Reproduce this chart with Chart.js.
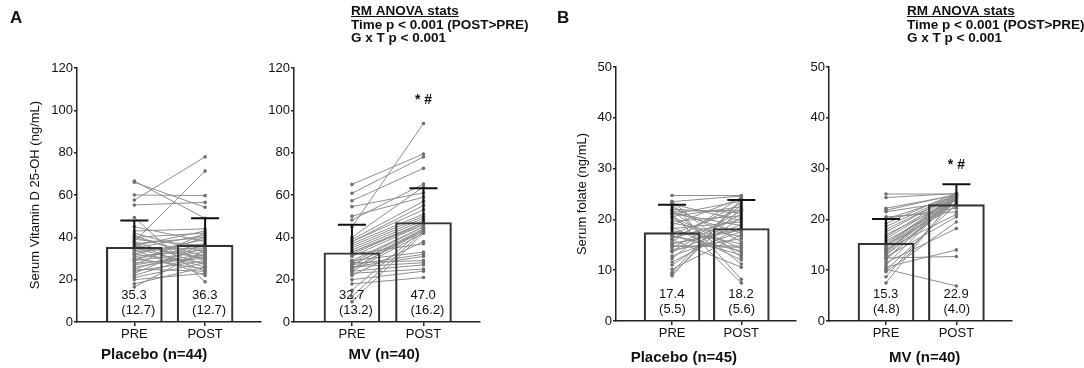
<!DOCTYPE html>
<html>
<head>
<meta charset="utf-8">
<script src="https://cdn.jsdelivr.net/npm/chart.js@4.4.1/dist/chart.umd.min.js"></script>
<style>
  html, body { margin: 0; padding: 0; background: #fff; }
  #wrap { position: relative; width: 1084px; height: 368px; }
  #wrap canvas { position: absolute; top: 0; }
</style>
</head>
<body>
<div id="wrap">
  <canvas id="c1" width="265" height="368" style="left:0px"></canvas>
  <canvas id="c2" width="275" height="368" style="left:265px"></canvas>
  <canvas id="c3" width="260" height="368" style="left:540px"></canvas>
  <canvas id="c4" width="284" height="368" style="left:800px"></canvas>
</div>
<script>
(function () {
    "use strict";

    // Data
    const timeLabels = ["PRE", "POST"];
    const vitDTicks = [0, 20, 40, 60, 80, 100, 120];
    const folateTicks = [0, 10, 20, 30, 40, 50];

    // group means and SD printed in the bars
    const vitDPlaceboMean = [35.3, 36.3];
    const vitDPlaceboSd = [12.7, 12.7];
    const vitDMvMean = [32.7, 47.0];
    const vitDMvSd = [13.2, 16.2];
    const folatePlaceboMean = [17.4, 18.2];
    const folatePlaceboSd = [5.5, 5.6];
    const folateMvMean = [15.3, 22.9];
    const folateMvSd = [4.8, 4.0];

    // individual subjects (PRE[i] -> POST[i])
    const vitDPlaceboPre = [66.6, 66, 60, 57.6, 55.3, 49.4, 38,
        45, 43, 42, 41, 40, 40, 39, 38, 37, 37, 36, 36, 35, 35, 34, 34, 33, 32,
        32, 31, 30, 30, 29, 29, 28, 27, 27, 26, 25, 25, 24, 23, 22, 21, 20, 18, 16.5];
    const vitDPlaceboPost = [49, 54.2, 59.7, 78, 56.5, 19, 71.3,
        38, 44, 33, 29, 42, 31, 36, 27, 40, 24, 43, 30, 26, 41, 35, 22, 37, 28,
        39, 34, 25, 36, 33, 40, 30, 32, 42, 31, 35, 24, 29, 37, 32, 28, 23, 26, 34];

    const vitDMvPre = [65, 60.8, 57.3, 54.5, 50, 48.2, 45, 40, 39, 38,
        38, 37, 36, 35, 34, 33, 32, 33, 32, 31,
        29, 29, 28, 27, 27, 26, 25, 28, 27, 26,
        25, 24, 24, 23, 22, 20, 18, 15, 12, 9.6];
    const vitDMvPost = [79.4, 78, 72.6, 61, 59, 65.2, 93.8, 63.9, 57, 55,
        53, 51, 50, 49, 48, 47, 47, 46, 37, 46,
        45, 33, 45, 32, 44, 31, 44, 29, 43, 28,
        43, 27, 42, 25, 38, 24, 21, 44, 43, 42];

    const folatePlaceboPre = [24.7, 23.5, 23.2, 23, 22.5, 22, 21.8, 21.5, 21, 20.5,
        21.2, 21, 20.6, 20.2, 19.6, 19.3, 18.9, 18.5, 18.2, 17.8,
        17.2, 16.8, 16.3, 16, 15.6, 15.2, 14.7, 14.4, 14, 13.6,
        16.8, 16.2, 15.2, 14.8, 13.8, 12.8, 12.3, 11.6, 11, 10.2,
        9.6, 9.2, 8.9, 23.5, 21.6];
    const folatePlaceboPost = [24.7, 12.5, 8.2, 19.8, 15.6, 21.3, 11.2, 17.3, 23.6, 14.2,
        18.8, 7.5, 22.5, 13.4, 20.7, 16.6, 24.2, 12, 19.5, 15.2,
        22, 13.8, 20.1, 10.6, 24.4, 17.9, 14.8, 21.6, 16.2, 19,
        13, 23.2, 18.2, 14.5, 21, 17.6, 22.8, 18.5, 20.4, 17,
        24, 22.2, 23.9, 24.6, 21.8];

    const folateMvPre = [25, 24.3, 22.2, 21.8, 21.5, 20.5, 20.2, 20, 19.2, 18.6,
        18, 17.5, 17, 16.6, 16.2, 15.8, 15.4, 15, 15, 14.7,
        14.4, 14.1, 13.8, 13.5, 13.2, 12.9, 12.6, 12.3, 12.4, 12,
        11.5, 11, 10.6, 10.2, 10, 9.7, 8.7, 7.5, 13.8, 14];
    const folateMvPost = [25, 25.1, 24.8, 24.9, 23.6, 21.5, 22.2, 24.7, 25.2, 24.9,
        24.8, 25, 23.8, 25, 24.6, 23.2, 24.5, 22.6, 24.9, 24.8,
        24.4, 21, 24.3, 24.2, 23.4, 24.1, 20.5, 24, 12.7, 24.7,
        18.2, 24.6, 14, 6.9, 23, 19.5, 24.2, 24.8, 25.1, 24];

    const statsLines = ["RM ANOVA stats", "Time p < 0.001 (POST>PRE)", "G x T p < 0.001"];

    const FONT = "'Liberation Sans', Arial, Helvetica, sans-serif";
    const INK = "#111";
    const AXIS = "#222";

    // error bars, value labels and the free text of each panel
    const decor = {
        id: "decor",
        afterDatasetsDraw(chart, args, opts) {
            const ctx = chart.ctx;
            const xs = chart.scales.x;
            const ys = chart.scales.y;
            ctx.save();
            ctx.strokeStyle = INK;
            ctx.lineWidth = 2;
            opts.means.forEach(function (m, i) {
                const px = xs.getPixelForValue(i + 1);
                const y0 = ys.getPixelForValue(m);
                const y1 = ys.getPixelForValue(m + opts.sds[i]);
                ctx.beginPath();
                ctx.moveTo(px, y0);
                ctx.lineTo(px, y1);
                ctx.moveTo(px - 14, y1);
                ctx.lineTo(px + 14, y1);
                ctx.stroke();
            });
            ctx.fillStyle = INK;
            ctx.font = "13px " + FONT;
            ctx.textAlign = "left";
            ctx.textBaseline = "middle";
            opts.means.forEach(function (m, i) {
                const px = xs.getPixelForValue(i + 1) - 13;
                ctx.fillText(m.toFixed(1), px, ys.bottom - 27);
                ctx.fillText("(" + opts.sds[i].toFixed(1) + ")", px, ys.bottom - 12);
            });
            ctx.restore();
        },
        afterDraw(chart, args, opts) {
            const ctx = chart.ctx;
            const xs = chart.scales.x;
            const ys = chart.scales.y;
            ctx.save();
            ctx.fillStyle = INK;
            ctx.textBaseline = "middle";

            ctx.font = "bold 15px " + FONT;
            ctx.textAlign = "center";
            ctx.fillText(opts.group, xs.getPixelForValue(opts.groupX), opts.groupY);

            if (opts.starY !== null) {
                ctx.font = "bold 14px " + FONT;
                ctx.fillText("* #", xs.getPixelForValue(2), ys.getPixelForValue(opts.starY));
            }

            if (opts.letter) {
                ctx.font = "bold 17px " + FONT;
                ctx.textAlign = "left";
                ctx.fillText(opts.letter, opts.letterX, 18);
            }

            if (opts.statsX !== null) {
                ctx.font = "bold 13.5px " + FONT;
                ctx.textAlign = "left";
                statsLines.forEach(function (t, i) {
                    ctx.fillText(t, opts.statsX, 11 + i * 13.8);
                });
                const w = ctx.measureText(statsLines[0]).width;
                ctx.strokeStyle = INK;
                ctx.lineWidth = 1;
                ctx.beginPath();
                ctx.moveTo(opts.statsX, 16.5);
                ctx.lineTo(opts.statsX + w, 16.5);
                ctx.stroke();
            }
            ctx.restore();
        },
    };

    function subjectLines(pre, post) {
        return pre.map(function (v, i) {
            return {
                type: "line",
                data: [{ x: 1, y: v }, { x: 2, y: post[i] }],
                borderColor: "#8e8e8e",
                borderWidth: 1,
                pointRadius: 1.8,
                pointBackgroundColor: "#6f6f6f",
                pointBorderWidth: 0,
                tension: 0,
                fill: false,
                order: 2,
            };
        });
    }

    function makePanel(p) {
        const ctx = document.getElementById(p.canvas).getContext("2d");
        return new Chart(ctx, {
            type: "bar",
            data: {
                datasets: [
                    {
                        type: "bar",
                        data: p.means.map(function (m, i) { return { x: i + 1, y: m }; }),
                        backgroundColor: "rgba(255,255,255,0)",
                        borderColor: "#333",
                        borderWidth: 1.5,
                        barThickness: 56,
                        order: 1,
                    },
                ].concat(subjectLines(p.pre, p.post)),
            },
            options: {
                responsive: false,
                animation: false,
                events: [],
                layout: {
                    padding: { top: p.top, right: p.padRight, bottom: 0, left: 0 },
                },
                plugins: {
                    legend: { display: false },
                    tooltip: { enabled: false },
                    decor: {
                        means: p.means,
                        sds: p.sds,
                        group: p.group,
                        groupX: p.groupX,
                        groupY: p.groupY,
                        starY: p.starY,
                        letter: p.letter,
                        letterX: p.letterX,
                        statsX: p.statsX,
                    },
                },
                scales: {
                    x: {
                        type: "linear",
                        min: 0.19,
                        max: 2.79,
                        offset: false,
                        afterBuildTicks: function (scale) {
                            scale.ticks = timeLabels.map(function (t, i) { return { value: i + 1 }; });
                        },
                        afterFit: function (scale) {
                            scale.height = p.xHeight;
                        },
                        ticks: {
                            color: INK,
                            padding: 1,
                            maxRotation: 0,
                            font: { family: FONT, size: 13 },
                            callback: function (value, index) {
                                return timeLabels[index];
                            },
                        },
                        grid: {
                            display: true,
                            offset: false,
                            drawOnChartArea: false,
                            drawTicks: true,
                            tickLength: 4,
                            color: AXIS,
                            lineWidth: 1.5,
                        },
                        border: { display: true, color: AXIS, width: 1.5 },
                    },
                    y: {
                        type: "linear",
                        min: 0,
                        max: p.ticks[p.ticks.length - 1],
                        afterBuildTicks: function (scale) {
                            scale.ticks = p.ticks.map(function (v) { return { value: v }; });
                        },
                        afterFit: function (scale) {
                            scale.width = p.yWidth;
                        },
                        ticks: {
                            color: INK,
                            padding: 1,
                            font: { family: FONT, size: 13 },
                        },
                        grid: {
                            display: true,
                            drawOnChartArea: false,
                            drawTicks: true,
                            tickLength: 3,
                            color: AXIS,
                            lineWidth: 1.5,
                        },
                        border: { display: true, color: AXIS, width: 1.5 },
                        title: {
                            display: p.yTitle !== "",
                            text: p.yTitle,
                            color: INK,
                            font: { family: FONT, size: 13 },
                            padding: { top: p.yTitlePad, bottom: 0 },
                        },
                    },
                },
            },
            plugins: [decor],
        });
    }

    makePanel({
        canvas: "c1", means: vitDPlaceboMean, sds: vitDPlaceboSd,
        pre: vitDPlaceboPre, post: vitDPlaceboPost, ticks: vitDTicks,
        top: 68, xHeight: 46, yWidth: 77, padRight: 3,
        yTitle: "Serum Vitamin D 25-OH (ng/mL)", yTitlePad: 28,
        group: "Placebo (n=44)", groupX: 1.28, groupY: 355,
        starY: null, letter: "A", letterX: 10, statsX: null,
    });
    makePanel({
        canvas: "c2", means: vitDMvMean, sds: vitDMvSd,
        pre: vitDMvPre, post: vitDMvPost, ticks: vitDTicks,
        top: 68, xHeight: 46, yWidth: 29, padRight: 60,
        yTitle: "", yTitlePad: 0,
        group: "MV (n=40)", groupX: 1.45, groupY: 355,
        starY: 105, letter: "", letterX: 0, statsX: 86,
    });
    makePanel({
        canvas: "c3", means: folatePlaceboMean, sds: folatePlaceboSd,
        pre: folatePlaceboPre, post: folatePlaceboPost, ticks: folateTicks,
        top: 67, xHeight: 47, yWidth: 76, padRight: 0,
        yTitle: "Serum folate (ng/mL)", yTitlePad: 35,
        group: "Placebo (n=45)", groupX: 1.17, groupY: 358,
        starY: null, letter: "B", letterX: 17, statsX: null,
    });
    makePanel({
        canvas: "c4", means: folateMvMean, sds: folateMvSd,
        pre: folateMvPre, post: folateMvPost, ticks: folateTicks,
        top: 67, xHeight: 47, yWidth: 29, padRight: 72,
        yTitle: "", yTitlePad: 0,
        group: "MV (n=40)", groupX: 1.55, groupY: 358,
        starY: 30.7, letter: "", letterX: 0, statsX: 107,
    });
})();
</script>
</body>
</html>
